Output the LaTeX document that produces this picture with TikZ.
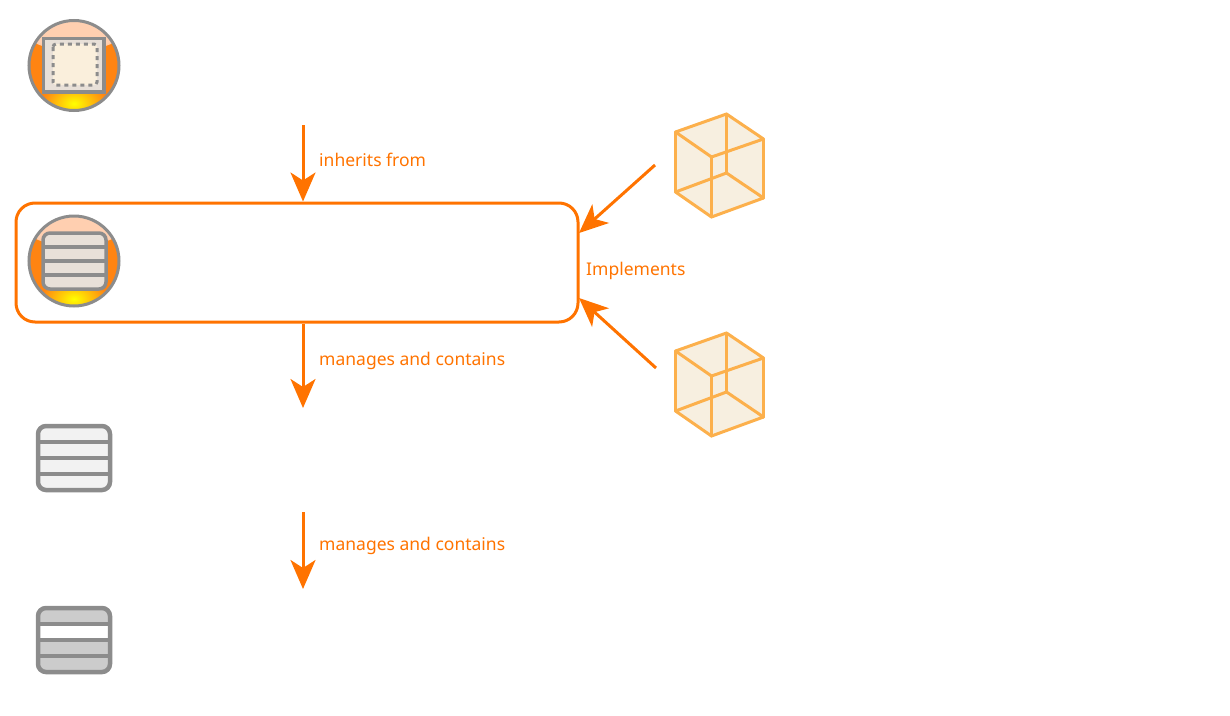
\documentclass[tikz,border=0pt]{standalone}
\usepackage{fontspec}
\setmainfont{Noto Sans}
\usepackage{xcolor}
\usetikzlibrary{arrows.meta}
\definecolor{flowcol}{HTML}{FF7300}
\definecolor{orbcol}{HTML}{FF8412}
\definecolor{peachcol}{HTML}{FFCFB0}
\definecolor{greycol}{HTML}{8C8C8C}
\definecolor{beigecol}{HTML}{E8E0D8}
\definecolor{creamcol}{HTML}{FAEFDC}
\definecolor{cubecol}{HTML}{FCB04C}
\definecolor{cubefill}{HTML}{F7EFE0}
\pgfdeclareradialshading{lensshade}{\pgfpoint{0bp}{0bp}}{color(0bp)=(peachcol); color(22bp)=(peachcol); color(48bp)=(orbcol); color(50bp)=(orbcol)}
\tikzset{
  flow/.style={draw=flowcol, line width=3pt, -{Stealth[length=29pt,width=25pt,inset=8pt]}},
  flowlabel/.style={anchor=base west, inner sep=0pt, text=flowcol, font=\fontsize{17.5}{20}\selectfont},
  classbox/.style={draw=flowcol, line width=3pt, rounded corners=19pt, minimum width=562pt, minimum height=119pt, inner sep=0pt},
  rowbox/.style={draw=greycol, line width=4.5pt, rounded corners=8pt},
  rowline/.style={draw=greycol, line width=4.5pt},
  cubeedge/.style={draw=cubecol, line width=3pt, line join=round, line cap=round}
}
% orb background, centred on #1
\newcommand{\orbicon}[1]{
  \begin{scope}[shift={#1}]
    \begin{scope}
      \clip (0,0) circle (45pt);
      \fill[orbcol] (0,0) circle (45pt);
      \shade[inner color=yellow, outer color=orbcol] (0,38) ellipse (33pt and 22pt);
      \shade[shading=lensshade] (0,-35) ellipse (50pt and 20pt);
    \end{scope}
    \draw[greycol, line width=3pt] (0,0) circle (45pt);
  \end{scope}
}
% row stack, #1 top left corner, #2 fill, #3 middle row fill
\newcommand{\rowicon}[3]{
  \begin{scope}[shift={#1}]
    \fill[#2, rounded corners=8pt] (0,0) rectangle (72,64);
    \fill[#3] (0,16) rectangle (72,32);
    \draw[rowbox] (0,0) rectangle (72,64);
    \foreach \y in {16,32,48} \draw[rowline] (0,\y) -- (72,\y);
  \end{scope}
}
% cube, #1 is the upper left vertex
\newcommand{\cubeicon}[1]{
  \begin{scope}[shift={#1}]
    \fill[cubefill] (0,0) -- (51,-18) -- (88,7) -- (88,66) -- (36,85) -- (0,60) -- cycle;
    \draw[cubeedge] (0,0) -- (51,-18) -- (88,7) -- (36,25) -- cycle;
    \draw[cubeedge] (0,60) -- (51,41) -- (88,66) -- (36,85) -- cycle;
    \draw[cubeedge] (0,0) -- (0,60) (51,-18) -- (51,41) (88,7) -- (88,66) (36,25) -- (36,85);
  \end{scope}
}

\begin{document}
\begin{tikzpicture}[x=1pt, y=-1pt]
\useasboundingbox (0,0) rectangle (1230,715);
\node[classbox] (cls) at (297,262.5) {};

% icons
\orbicon{(74,65.5)}
\fill[beigecol] (42,37) rectangle (104,93);
\draw[greycol, line width=3.5pt] (43.5,38.5) rectangle (104,92);
\draw[greycol, line width=3pt, fill=creamcol, dash pattern=on 4pt off 4pt, rounded corners=3pt] (53,44) rectangle (97,85);
\orbicon{(74,261)}
\draw[fill=beigecol, draw=greycol, line width=3.5pt, rounded corners=7pt] (43,233) rectangle (106,289);
\foreach \y in {247,261,275} \draw[greycol, line width=3.5pt] (43,\y) -- (106,\y);
\rowicon{(38,426)}{white!95!black}{white!95!black}
\rowicon{(38,608)}{black!20}{white}
\cubeicon{(675.5,132)}
\cubeicon{(675.5,351)}

% connectors
\coordinate (inhstart) at (303,125);
\coordinate (mgrend) at (303,408);
\coordinate (tblstart) at (303,512);
\coordinate (tblend) at (303,589);
\coordinate (ifacea) at (655,165);
\coordinate (ifaceb) at (656,368);
\coordinate (tipa) at (579,233);
\coordinate (tipb) at (579,298);
\draw[flow] (inhstart) -- (inhstart |- cls.north);
\draw[flow] (cls.south -| inhstart) -- (mgrend);
\draw[flow] (tblstart) -- (tblend);
\draw[flow] (ifacea) -- (tipa);
\draw[flow] (ifaceb) -- (tipb);

% labels
\node[flowlabel] (inhlabel) at (319,166) {inherits from};
\node[flowlabel] (implabel) at (586,275) {Implements};
\node[flowlabel] (mgrlabel) at (319,365) {manages and contains};
\node[flowlabel] (tbllabel) at (319,550) {manages and contains};
\end{tikzpicture}
\end{document}
